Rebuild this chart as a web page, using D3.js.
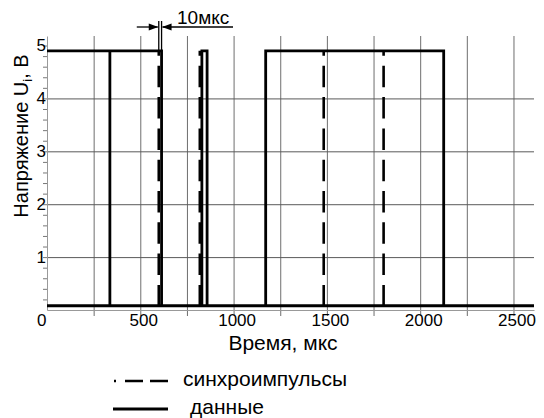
<!DOCTYPE html>
<html>
<head>
<meta charset="utf-8">
<script src="https://cdn.jsdelivr.net/npm/d3@7"></script>
<style>
  body { margin: 0; background: #fff; }
  text { font-family: "Liberation Sans", Arial, sans-serif; fill: #000; }
</style>
</head>
<body>
<svg id="canvas" width="544" height="418"></svg>
<script>
// signal levels, В
const levelHigh = 4.9;
const levelLow = 0.08;
// data ("данные"): intervals where the line is high, мкс
const dataHighSpans = [[0, 614], [830, 858], [1172, 2126]];
// extra edge of the data line
const dataExtraEdges = [337];
// sync pulses ("синхроимпульсы"), мкс
const syncTimes = [599, 819, 1483, 1804];
// axes
const xLabels = [0, 500, 1000, 1500, 2000, 2500];
const xGridTicks = [250, 500, 750, 1000, 1250, 1500, 1750, 2000, 2250, 2500];
const yLabels = [1, 2, 3, 4, 5];
const yGridTicks = [1, 2, 3, 4];
const yMinorTicks = d3.range(1, 26).map(i => i / 5);
// annotation: the gap between sync and data edge
const gapFrom = 599, gapTo = 614, gapText = "10мкс";

const width = 544;
const height = 418;
const mLeft = 47, mRight = 534, mTop = 36, mBottom = 310;
const font = "Liberation Sans, Arial, sans-serif";

const x = d3.scaleLinear().domain([0, 2610]).range([mLeft, mRight]);
const y = d3.scaleLinear().domain([0, 5.18]).range([mBottom, mTop]);

const svg = d3.select('svg#canvas');

// vertical grid
const xg = svg.append("g")
    .attr("transform", `translate(0,${mBottom + 6})`)
    .call(d3.axisBottom(x).tickValues(xGridTicks).tickSize(-(mBottom + 6 - mTop)).tickFormat(""));
xg.select(".domain").remove();
xg.selectAll("line").attr("stroke", "#6e6e6e").attr("stroke-width", 1);

// horizontal grid
const yg = svg.append("g")
    .attr("transform", `translate(${mLeft},0)`)
    .call(d3.axisLeft(y).tickValues(yGridTicks).tickSize(-(mRight - mLeft)).tickFormat(""));
yg.select(".domain").remove();
yg.selectAll("line").attr("stroke", "#5a5a5a").attr("stroke-width", 1);

// y axis line + minor ticks
const ym = svg.append("g")
    .attr("transform", `translate(${mLeft},0)`)
    .call(d3.axisLeft(y).tickValues(yMinorTicks).tickSize(4).tickSizeOuter(0).tickFormat(""));
ym.select(".domain").attr("stroke", "#999");
ym.selectAll("line").attr("stroke", "#777");

// y labels
const yl = svg.append("g")
    .attr("transform", `translate(${mLeft - 1},0)`)
    .call(d3.axisLeft(y).tickValues(yLabels).tickFormat(d3.format("d")).tickSize(0).tickPadding(0));
yl.select(".domain").remove();
yl.selectAll("text").attr("font-size", 17).attr("font-family", font).attr("fill", "#000");

// x axis
const xa = svg.append("g")
    .attr("transform", `translate(0,${mBottom})`)
    .call(d3.axisBottom(x).tickValues(xLabels).tickFormat(d3.format("d"))
      .tickSize(0).tickSizeOuter(0).tickPadding(4));
xa.select(".domain").attr("stroke", "#999");
xa.selectAll("text")
    .attr("font-size", 17)
    .attr("font-family", font)
    .attr("fill", "#000")
    .attr("text-anchor", d => d === 0 ? "end" : "middle")
    .attr("dx", d => d === 0 ? -1 : 3);

// data line
const line = d3.line().x(d => x(d[0])).y(d => y(d[1]));
const dataLines = [[[0, levelLow], [2610, levelLow]]];
dataHighSpans.forEach(([s, e]) => {
  const pts = s > 0 ? [[s, levelLow]] : [];
  pts.push([s, levelHigh], [e, levelHigh], [e, levelLow]);
  dataLines.push(pts);
});
dataExtraEdges.forEach(t => dataLines.push([[t, levelHigh], [t, levelLow]]));

svg.append("g")
  .selectAll("path")
  .data(dataLines)
  .join("path")
    .attr("d", line)
    .attr("fill", "none")
    .attr("stroke", "#000")
    .attr("stroke-width", 2.8)
    .attr("stroke-linejoin", "miter");

// sync pulses, dashed: one dot at the top, then long dashes
const syncDash = [5, 10].concat(d3.range(9).flatMap(() => [21.5, 9.8])).join(",");
svg.append("g")
  .selectAll("path")
  .data(syncTimes)
  .join("path")
    .attr("d", t => line([[t, levelHigh], [t, levelLow]]))
    .attr("stroke", "#000")
    .attr("stroke-width", 2.6)
    .attr("stroke-dasharray", syncDash);

// annotation "10мкс"
const ax1 = x(gapFrom), ax2 = x(gapTo), ay = 27;
const ann = svg.append("g").attr("stroke", "#000").attr("stroke-width", 1.3);
ann.append("line").attr("x1", ax1).attr("x2", ax1).attr("y1", 21).attr("y2", y(levelHigh));
ann.append("line").attr("x1", ax2).attr("x2", ax2).attr("y1", 21).attr("y2", y(levelHigh));
ann.append("line").attr("x1", ax1 - 22).attr("x2", ax1 - 1).attr("y1", ay).attr("y2", ay);
ann.append("line").attr("x1", ax2 + 1).attr("x2", 233).attr("y1", ay).attr("y2", ay);
ann.append("path").attr("stroke", "none").attr("fill", "#000")
    .attr("d", `M${ax1 - 0.5},${ay}L${ax1 - 10},${ay - 3.5}L${ax1 - 10},${ay + 3.5}Z`);
ann.append("path").attr("stroke", "none").attr("fill", "#000")
    .attr("d", `M${ax2 + 0.5},${ay}L${ax2 + 10},${ay - 3.5}L${ax2 + 10},${ay + 3.5}Z`);
svg.append("text")
    .attr("x", 177).attr("y", 24)
    .attr("font-size", 19)
    .text(gapText);

// axis titles
svg.append("text")
    .attr("x", 283).attr("y", 350)
    .attr("text-anchor", "middle")
    .attr("font-size", 21)
    .text("Время, мкс");

const yt = svg.append("text")
    .attr("transform", "translate(28,136) rotate(-90)")
    .attr("text-anchor", "middle")
    .attr("font-size", 20);
yt.append("tspan").text("Напряжение U");
yt.append("tspan").attr("font-size", 13).attr("dy", 4).text("i");
yt.append("tspan").attr("dy", -4).text(", В");

// legend
const lg = svg.append("g");
lg.append("line")
    .attr("x1", 114).attr("x2", 168).attr("y1", 381).attr("y2", 381)
    .attr("stroke", "#000").attr("stroke-width", 2.4)
    .attr("stroke-dasharray", "2,9,18,7,18");
lg.append("text").attr("x", 183).attr("y", 386).attr("font-size", 21).text("синхроимпульсы");
lg.append("line")
    .attr("x1", 113).attr("x2", 168).attr("y1", 409).attr("y2", 409)
    .attr("stroke", "#000").attr("stroke-width", 2.8);
lg.append("text").attr("x", 190).attr("y", 414).attr("font-size", 21).text("данные");
</script>
</body>
</html>
